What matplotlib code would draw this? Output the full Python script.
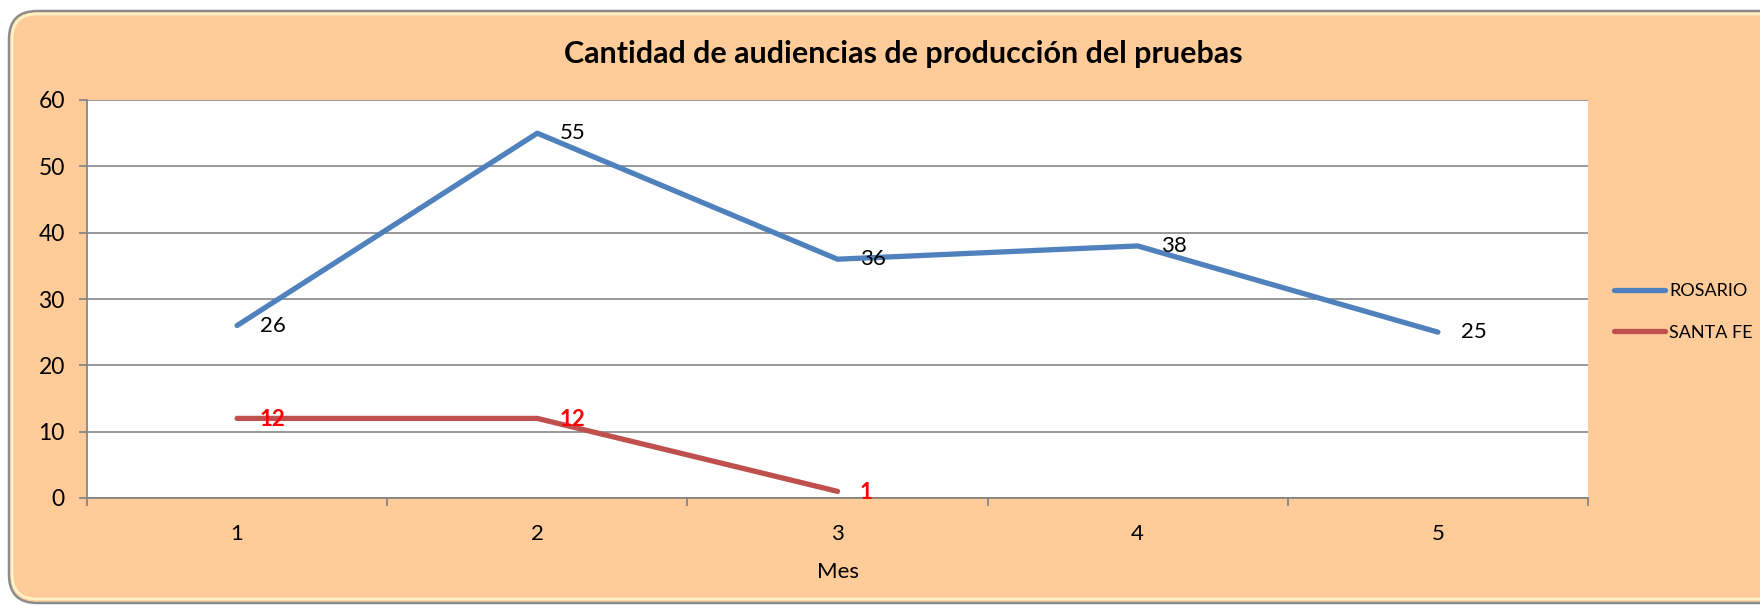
import matplotlib
matplotlib.use("Agg")
import matplotlib.pyplot as plt
from matplotlib.patches import FancyBboxPatch
from matplotlib.transforms import IdentityTransform

# datos
meses = [1, 2, 3, 4, 5]
rosario = [26, 55, 36, 38, 25]
santa_fe = [12, 12, 1]
series_names = ["ROSARIO", "SANTA FE"]
titulo = "Cantidad de audiencias de producción del pruebas"

plt.rcParams['font.family'] = ['Lato', 'DejaVu Sans']

fig = plt.figure(figsize=(17.6, 6.05), dpi=100)
fig.patch.set_facecolor("white")

# marco redondeado estilo Excel (coordenadas en pixeles, origen abajo)
marco = FancyBboxPatch((9, 2), 1790, 592, boxstyle="round,pad=0,rounding_size=28",
                       transform=IdentityTransform(), facecolor="#FFCC99",
                       edgecolor="#8C8C8C", linewidth=1.8, zorder=-2)
fig.patches.append(marco)
brillo = FancyBboxPatch((12, 6), 1790, 585, boxstyle="round,pad=0,rounding_size=25",
                        transform=IdentityTransform(), facecolor="none",
                        edgecolor="#FFF2C4", linewidth=2.0, zorder=-1)
fig.patches.append(brillo)

ax = fig.add_axes([87 / 1760, 1 - 498 / 605, (1588 - 87) / 1760, (498 - 100) / 605])
ax.set_facecolor("white")

azul = "#4F81BD"
rojo = "#C0504D"
ax.plot(meses, rosario, color=azul, lw=3.8, solid_capstyle="round", label=series_names[0], zorder=3)
ax.plot(meses[:len(santa_fe)], santa_fe, color=rojo, lw=3.8, solid_capstyle="round", label=series_names[1], zorder=3)

for x, y in zip(meses, rosario):
    ax.annotate(str(y), (x, y), xytext=(16.5, 0), textcoords="offset points",
                ha="left", va="center", fontsize=16, color="black", zorder=4)
for x, y in zip(meses, santa_fe):
    ax.annotate(str(y), (x, y), xytext=(16, -1), textcoords="offset points",
                ha="left", va="center", fontsize=16, color="red", fontweight="bold", zorder=4)

ax.set_xlim(0.5, 5.5)
ax.set_ylim(0, 60)
ax.set_yticks(range(0, 61, 10))
ax.set_xticks(meses)
ax.set_xticks([0.5, 1.5, 2.5, 3.5, 4.5, 5.5], minor=True)
ax.tick_params(axis="x", which="major", length=0, pad=19, labelsize=16)
ax.tick_params(axis="x", which="minor", length=6, width=1.3, color="#868686", direction="out")
ax.tick_params(axis="y", length=6, width=1.3, color="#868686", pad=10, labelsize=16.5)

ax.grid(axis="y", color="#868686", lw=1.2, zorder=1)
for s in ["top", "right"]:
    ax.spines[s].set_visible(False)
for s in ["left", "bottom"]:
    ax.spines[s].set_color("#868686")
    ax.spines[s].set_linewidth(1.3)

ax.set_xlabel("Mes", fontsize=16, labelpad=13)

fig.text(903 / 1760, 1 - 54 / 605, titulo, ha="center", va="center",
         fontsize=22, fontweight="bold")

leg = ax.legend(loc="center left", bbox_to_anchor=(1614 / 1760, 1 - 312 / 605),
                bbox_transform=fig.transFigure, frameon=False, fontsize=13,
                borderpad=0, borderaxespad=0,
                handlelength=2.8, handletextpad=0.25, labelspacing=1.4)

fig.savefig("out.png", dpi=100)
